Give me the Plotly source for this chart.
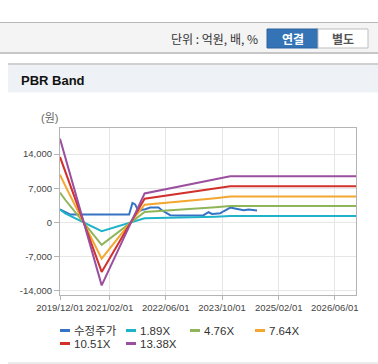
import plotly.graph_objects as go

# ---------------- data ----------------
series_names = ["수정주가", "1.89X", "4.76X", "7.64X", "10.51X", "13.38X"]
series_colors = ["#3574c4", "#1fb3c9", "#8fb55a", "#f3a630", "#d2302b", "#9a4f9f"]

price_dates = [
    "2019-12-01", "2020-01-10", "2020-02-25", "2021-07-20", "2021-08-18",
    "2021-09-10", "2021-10-09", "2021-11-10", "2021-12-06", "2022-01-18",
    "2022-03-31", "2022-04-29", "2022-07-10", "2022-10-04", "2023-01-28",
    "2023-04-24", "2023-06-06", "2023-07-06", "2023-08-03", "2023-09-16",
    "2023-10-14", "2023-12-11", "2024-01-09", "2024-02-21", "2024-04-04",
    "2024-05-18", "2024-06-30", "2024-07-29",
]
price_values = [
    2700, 2150, 1650, 1650, 4000,
    3700, 2300, 2600, 2700, 3050,
    3050, 2500, 1500, 1450, 1500,
    1500, 2100, 1750, 1800, 1900,
    2300, 3050, 2900, 2700, 2500,
    2650, 2450, 2450,
]

band_dates = ["2019-12-01", "2020-01-15", "2020-11-25", "2021-12-01",
              "2023-08-05", "2023-12-10", "2026-12-01"]
band_189 = [2650, 1850, -1780, 850, 1200, 1330, 1330]
band_476 = [6100, 4650, -4550, 2150, 3100, 3350, 3350]
band_764 = [9750, 7550, -7400, 3650, 4970, 5300, 5300]
band_1051 = [13400, 10450, -10100, 4850, 6950, 7400, 7400]
band_1338 = [17100, 13300, -12850, 5950, 8850, 9450, 9450]

x_tick_vals = ["2019-12-01", "2021-02-01", "2022-06-01", "2023-10-01",
               "2025-02-01", "2026-06-01"]
x_tick_text = ["2019/12/01", "2021/02/01", "2022/06/01", "2023/10/01",
               "2025/02/01", "2026/06/01"]
y_tick_vals = [-14000, -7000, 0, 7000, 14000]
y_tick_text = ["-14,000", "-7,000", "0", "7,000", "14,000"]

# ---------------- figure ----------------
W, H = 378, 364
L, R, T, B = 60, 22, 128, 69
PW, PH = W - L - R, H - T - B


def px(x):
    return (x - L) / PW


def py(y):
    return (H - B - y) / PH


FONT = "Liberation Sans, Arial, Noto Sans CJK KR, sans-serif"
KFONT = "Noto Sans CJK KR, Liberation Sans, sans-serif"

fig = go.Figure()
all_y = [price_values, band_189, band_476, band_764, band_1051, band_1338]
for i, name in enumerate(series_names):
    xs = price_dates if i == 0 else band_dates
    fig.add_trace(go.Scatter(
        x=xs, y=all_y[i], name=name, mode="lines",
        line=dict(color=series_colors[i], width=2),
        showlegend=False, hoverinfo="skip",
    ))

shapes = []
annotations = []

# top unit bar
shapes.append(dict(type="rect", xref="paper", yref="paper", layer="below",
                   x0=px(0), x1=px(W), y0=py(53), y1=py(22.5),
                   fillcolor="#f4f4f4", line=dict(width=0)))
shapes.append(dict(type="line", xref="paper", yref="paper",
                   x0=px(0), x1=px(W), y0=py(22.5), y1=py(22.5),
                   line=dict(color="#b8b8b8", width=1)))
shapes.append(dict(type="line", xref="paper", yref="paper",
                   x0=px(0), x1=px(W), y0=py(53), y1=py(53),
                   line=dict(color="#c6c6c6", width=2)))
# buttons
shapes.append(dict(type="rect", xref="paper", yref="paper",
                   x0=px(267), x1=px(318), y0=py(48), y1=py(29),
                   fillcolor="#3373b6", line=dict(color="#2c64a0", width=1)))
shapes.append(dict(type="rect", xref="paper", yref="paper",
                   x0=px(318), x1=px(368), y0=py(48), y1=py(29),
                   fillcolor="#ffffff", line=dict(color="#bdbdbd", width=1)))
annotations.append(dict(xref="paper", yref="paper", x=px(259.5), y=py(39),
                        xanchor="right", yanchor="middle", showarrow=False,
                        text="단위 : 억원, 배, %",
                        font=dict(family=KFONT, size=12, color="#333333")))
annotations.append(dict(xref="paper", yref="paper", x=px(292.5), y=py(38.5),
                        xanchor="center", yanchor="middle", showarrow=False,
                        text="<b>연결</b>",
                        font=dict(family=KFONT, size=12, color="#ffffff")))
annotations.append(dict(xref="paper", yref="paper", x=px(343), y=py(38.5),
                        xanchor="center", yanchor="middle", showarrow=False,
                        text="<b>별도</b>",
                        font=dict(family=KFONT, size=12, color="#555555")))

# panel header
shapes.append(dict(type="rect", xref="paper", yref="paper", layer="below",
                   x0=px(8), x1=px(W), y0=py(92.5), y1=py(64),
                   fillcolor="#eef1f6", line=dict(width=0)))
shapes.append(dict(type="line", xref="paper", yref="paper",
                   x0=px(8), x1=px(W), y0=py(64), y1=py(64),
                   line=dict(color="#d0d0d0", width=2)))
shapes.append(dict(type="line", xref="paper", yref="paper",
                   x0=px(8), x1=px(W), y0=py(363), y1=py(363),
                   line=dict(color="#d8d8d8", width=1)))
annotations.append(dict(xref="paper", yref="paper", x=px(19), y=py(80.5),
                        xanchor="left", yanchor="middle", showarrow=False,
                        text="<b>PBR Band</b>",
                        font=dict(family=FONT, size=13, color="#111111")))
# y-axis unit label
annotations.append(dict(xref="paper", yref="paper", x=px(59.5), y=py(118),
                        xanchor="right", yanchor="middle", showarrow=False,
                        text="(원)",
                        font=dict(family=FONT, size=11, color="#666666")))

# custom legend
leg_x = [60, 126, 190, 255, 60, 126]
leg_y = [330.5, 330.5, 330.5, 330.5, 343.5, 343.5]
for i, name in enumerate(series_names):
    shapes.append(dict(type="line", xref="paper", yref="paper",
                       x0=px(leg_x[i]), x1=px(leg_x[i] + 10),
                       y0=py(leg_y[i]), y1=py(leg_y[i]),
                       line=dict(color=series_colors[i], width=3)))
    annotations.append(dict(xref="paper", yref="paper",
                            x=px(leg_x[i] + 12), y=py(leg_y[i]),
                            xanchor="left", yanchor="middle", showarrow=False,
                            text=name,
                            font=dict(family=FONT, size=11.5, color="#333333")))

fig.update_layout(
    width=W, height=H,
    margin=dict(l=L, r=R, t=T, b=B, pad=0),
    paper_bgcolor="#ffffff", plot_bgcolor="#ffffff",
    shapes=shapes, annotations=annotations,
    showlegend=False,
    xaxis=dict(
        type="date", range=["2019-12-01", "2026-12-01"],
        tickvals=x_tick_vals, ticktext=x_tick_text,
        showgrid=True, gridcolor="#e6e6e6", gridwidth=1,
        showline=True, linecolor="#b4b4b4", linewidth=1, mirror=True,
        ticks="outside", ticklen=4, tickcolor="#b4b4b4",
        tickfont=dict(family=FONT, size=9.5, color="#444444"),
        zeroline=False, fixedrange=True,
    ),
    yaxis=dict(
        range=[-14820, 19320],
        tickvals=y_tick_vals, ticktext=y_tick_text,
        showgrid=True, gridcolor="#e6e6e6", gridwidth=1,
        showline=True, linecolor="#b4b4b4", linewidth=1, mirror=True,
        ticks="outside", ticklen=5, tickcolor="#b4b4b4",
        tickfont=dict(family=FONT, size=9.5, color="#444444"),
        zeroline=False, fixedrange=True,
    ),
)

fig.write_html(
    "out.html",
    config={"displayModeBar": False},
    post_script="document.body.style.margin='0';document.body.style.overflow='hidden';",
)
